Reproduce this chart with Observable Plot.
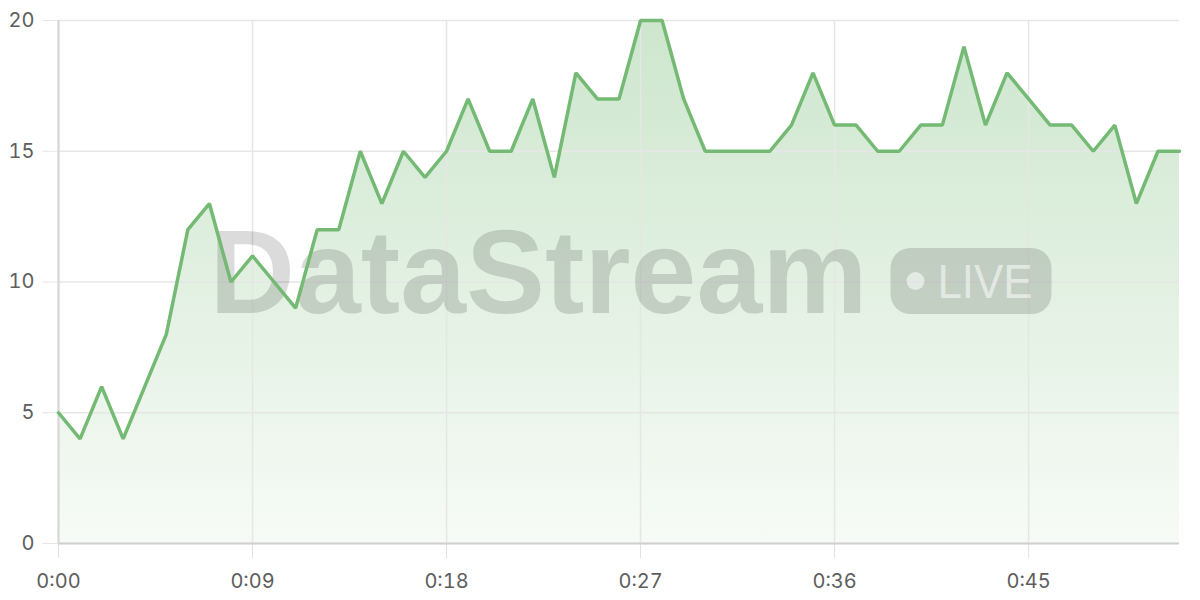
<!DOCTYPE html>
<html>
<head>
<meta charset="utf-8">
<script src="https://cdn.jsdelivr.net/npm/d3@7"></script>
<script src="https://cdn.jsdelivr.net/npm/@observablehq/plot@0.6"></script>
<style>
  html, body { margin: 0; padding: 0; background: #fff; }
  #chart { width: 1200px; height: 600px; }
</style>
</head>
<body>
<div id="chart"></div>
<script>
// seconds since start
const seconds = d3.range(0, 53);
const values = [5,4,6,4,6,8,12,13,10,11,10,9,12,12,15,13,15,14,15,17,15,15,17,14,18,17,17,20,20,17,15,15,15,15,16,18,16,16,15,15,16,16,19,16,18,17,16,16,15,16,13,15,15];
const xTicks = [0, 9, 18, 27, 36, 45];
const yTicks = [0, 5, 10, 15, 20];
const watermarkTitle = "DataStream";
const watermarkBadge = "LIVE";

const data = seconds.map((s, i) => ({ t: s, v: values[i] }));
const fmt = s => `${Math.floor(s / 60)}:${String(s % 60).padStart(2, "0")}`;
const lineColor = "#74b974";

function watermark(index, scales, values, dims) {
  const ns = "http://www.w3.org/2000/svg";
  const g = document.createElementNS(ns, "g");
  g.setAttribute("text-anchor", "start");
  const mk = (tag, attrs, text) => {
    const el = document.createElementNS(ns, tag);
    for (const k in attrs) el.setAttribute(k, attrs[k]);
    if (text) el.textContent = text;
    g.appendChild(el);
    return el;
  };
  const cx = (dims.marginLeft + dims.width - dims.marginRight) / 2;
  mk("text", {x: cx - 409, y: 313, "text-anchor": "start", "font-family": "Liberation Sans, Arial, sans-serif", "font-weight": "bold",
    "font-size": 118, "fill": "#000", "fill-opacity": 0.14, "textLength": 658, "lengthAdjust": "spacingAndGlyphs"}, watermarkTitle);
  mk("rect", {x: cx + 272, y: 248, width: 161, height: 66, rx: 20, fill: "#000", "fill-opacity": 0.14});
  mk("circle", {cx: cx + 297, cy: 281, r: 9, fill: "#fff", "fill-opacity": 0.55});
  mk("text", {x: cx + 319, y: 298, "text-anchor": "start", "font-family": "Liberation Sans, Arial, sans-serif", "font-weight": "normal",
    "font-size": 48, fill: "#fff", "fill-opacity": 0.55, "textLength": 95, "lengthAdjust": "spacingAndGlyphs"}, watermarkBadge);
  return g;
}

const chart = Plot.plot({
  width: 1200,
  height: 600,
  marginLeft: 58,
  marginRight: 21,
  marginTop: 20,
  marginBottom: 57,
  style: { fontFamily: "Inter, 'Noto Sans', sans-serif", fontSize: "20px", color: "#5e5e5e", background: "#fff" },
  x: { domain: [0, 52], label: null },
  y: { domain: [0, 20], label: null },
  marks: [
    Plot.areaY(data, { x: "t", y: "v", fill: "url(#areaGrad)", curve: "linear" }),
    Plot.gridY(yTicks, { stroke: "#e6e6e6", strokeOpacity: 1, strokeWidth: 1.5 }),
    Plot.gridX(xTicks, { stroke: "#e6e6e6", strokeOpacity: 1, strokeWidth: 1.5 }),
    watermark,
    Plot.axisX({ ticks: xTicks, tickFormat: fmt, tickSize: 15, tickPadding: 15, stroke: "#e0e0e0", strokeOpacity: 1, fill: "#5e5e5e", label: null }),
    Plot.axisY({ ticks: yTicks, tickSize: 16, tickPadding: 8, stroke: "#e6e6e6", strokeOpacity: 1, fill: "#5e5e5e", label: null }),
    Plot.ruleY([0], { stroke: "#cfcfcf", strokeWidth: 2 }),
    Plot.ruleX([0], { stroke: "#d6d6d6", strokeWidth: 2 }),
    Plot.lineY(data, { x: "t", y: "v", stroke: lineColor, strokeWidth: 3.5, strokeLinejoin: "miter", curve: "linear" })
  ]
});

const ns = "http://www.w3.org/2000/svg";
const defs = document.createElementNS(ns, "defs");
defs.innerHTML = `<linearGradient id="areaGrad" gradientUnits="userSpaceOnUse" x1="0" y1="20" x2="0" y2="543">
  <stop offset="0" stop-color="${lineColor}" stop-opacity="0.36"/>
  <stop offset="1" stop-color="${lineColor}" stop-opacity="0.06"/>
</linearGradient>`;
chart.insertBefore(defs, chart.firstChild);
document.getElementById("chart").appendChild(chart);
</script>
</body>
</html>
